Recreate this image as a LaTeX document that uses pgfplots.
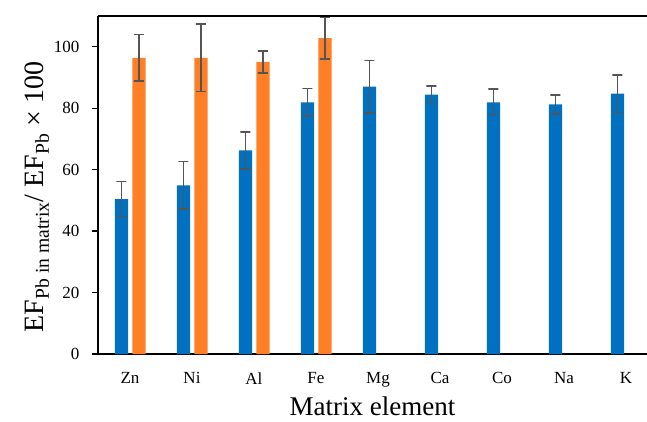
\documentclass[border=0pt]{standalone}
\usepackage{pgfplots}
\usepackage{pgfplotstable}
\pgfplotsset{compat=1.18}
\usepackage{fontspec}
\setmainfont{Liberation Serif}
\definecolor{barblue}{HTML}{0070C0}
\definecolor{barorange}{HTML}{FF7F27}
\definecolor{errgray}{HTML}{555555}
\pgfplotstableread{
x y e
0 50.4 5.7
1 54.9 7.7
2 66.3 6.0
3 81.9 4.5
4 87.0 8.5
5 84.4 2.9
6 81.9 4.3
7 81.2 3.1
8 84.7 6.1
}\blue
\pgfplotstableread{
x y e
0 96.4 7.6
1 96.4 11.0
2 95.1 3.6
3 102.8 6.8
}\orange
\begin{document}
\begin{tikzpicture}
\begin{axis}[
  scale only axis,
  width=549pt, height=338pt,
  xmin=-0.516, xmax=8.34,
  ymin=0, ymax=110,
  axis x line*=bottom,
  axis y line*=left,
  axis line style={line width=1.3pt, black, -},
  xtick={0,1,2,3,4,5,6,7,8},
  xticklabels={Zn,Ni,Al,Fe,Mg,Ca,Co,Na,K},
  major x tick style={draw=none},
  ytick={0,20,40,60,80,100},
  ytick style={line width=1.2pt, black},
  tick align=outside,
  major tick length=6pt,
  /pgf/number format/assume math mode=true,
  ticklabel style={font=\fontsize{17}{17}\selectfont},
  yticklabel style={xshift=-9pt},
  xticklabel style={yshift=-9pt},
  xlabel={\fontsize{27}{27}\selectfont Matrix element},
  xlabel style={yshift=-3pt},
  ylabel={\fontsize{28}{28}\selectfont EF\textsubscript{Pb in matrix}/ EF\textsubscript{Pb} × 100},
  ylabel style={yshift=-2pt, xshift=-12pt},
  bar width=0.215,
  extra description/.code={\draw[line width=1.3pt] (rel axis cs:0,1) -- (rel axis cs:1,1);},
  myerr/.style={forget plot, sharp plot, draw=none, mark=none,
    error bars/.cd, y dir=both, y explicit,
    draw error bar/.code 2 args={%
      \draw[draw=errgray, line width=1.6pt] ##1 -- ##2
        node[pos=1, inner sep=0pt, minimum width=10pt, minimum height=0pt,
             draw=errgray, line width=1.6pt, fill=none, shape=rectangle] {};%
    }},
]
\addplot[ybar, fill=barblue, draw=none, bar shift=-0.137] table[x=x, y=y] {\blue};
\addplot[ybar, fill=barorange, draw=none, bar shift=0.145] table[x=x, y=y] {\orange};
\addplot[myerr] table[x expr=\thisrow{x}-0.137, y=y, y error=e] {\blue};
\addplot[myerr] table[x expr=\thisrow{x}+0.145, y=y, y error=e] {\orange};
\coordinate (ll) at (rel axis cs:0,0);
\end{axis}
\pgfresetboundingbox
\useasboundingbox ([xshift=-98pt,yshift=-67pt]ll) rectangle ([xshift=549pt,yshift=354pt]ll);
\end{tikzpicture}
\end{document}
